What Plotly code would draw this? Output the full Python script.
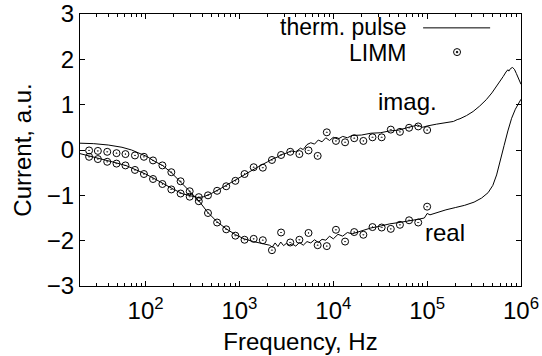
import plotly.graph_objects as go

# ---------------- data ----------------
# thermal-pulse curves (Hz, a.u.)
pulse_real_f = [20, 28, 40, 56, 71, 89, 105, 120, 151, 186, 234, 295, 372, 457, 575, 724, 912,
                1122, 1413, 1778, 2089, 2239, 2399, 2570, 2754, 2951, 3162, 3388, 3631, 3981,
                4365, 4786, 5248, 5754, 6310, 6918, 7586, 8318, 9120, 10000, 11220, 12589,
                14125, 15849, 19953, 25119, 31623, 39811, 50119, 63096, 79433, 93325, 100000,
                107152, 125893, 158489, 199526, 251189, 316228, 380189, 446684, 501187,
                549541, 602560, 660693, 724436, 794328, 870964, 933254, 1000000]
pulse_real_v = [0.15, 0.14, 0.11, 0.06, 0.0, -0.08, -0.15, -0.23, -0.34, -0.49, -0.69, -0.91,
                -1.13, -1.37, -1.58, -1.74, -1.87, -1.96, -2.02, -2.06, -2.10, -2.14, -2.05,
                -2.13, -2.03, -2.11, -2.06, -2.10, -2.07, -2.12, -2.04, -2.10, -2.02, -2.05,
                -1.98, -2.04, -1.97, -1.99, -1.90, -1.96, -1.86, -1.90, -1.82, -1.85, -1.78,
                -1.72, -1.68, -1.63, -1.60, -1.57, -1.53, -1.50, -1.40, -1.43, -1.38, -1.32,
                -1.27, -1.22, -1.15, -1.06, -0.94, -0.78, -0.55, -0.25, 0.10, 0.42, 0.70,
                0.90, 1.02, 1.12]

pulse_imag_f = [20, 25, 32, 40, 50, 63, 79, 100, 126, 158, 200, 251, 316, 363, 417, 501, 631,
                794, 1000, 1259, 1585, 1995, 2239, 2512, 2818, 3162, 3548, 3981, 4467, 4786,
                5248, 5754, 6310, 6918, 7586, 8318, 9120, 10000, 11220, 12589, 14125, 15849,
                19953, 25119, 31623, 39811, 50119, 63096, 70795, 79433, 89125, 100000, 125893,
                158489, 190546, 208930, 223872, 263027, 309030, 363078, 426580, 489779,
                549541, 602560, 645654, 691831, 724436, 741310, 776247, 812831, 851138,
                891251, 954993, 1000000]
pulse_imag_v = [-0.08, -0.13, -0.18, -0.24, -0.29, -0.35, -0.43, -0.53, -0.64, -0.76, -0.87,
                -0.97, -1.03, -1.05, -1.03, -0.96, -0.85, -0.73, -0.60, -0.48, -0.37, -0.26,
                -0.20, -0.16, -0.10, -0.07, -0.02, -0.04, 0.04, 0.01, 0.12, 0.16, 0.13, 0.22,
                0.18, 0.27, 0.21, 0.28, 0.24, 0.30, 0.27, 0.32, 0.33, 0.37, 0.38, 0.42, 0.44,
                0.50, 0.52, 0.55, 0.50, 0.53, 0.57, 0.60, 0.63, 0.67, 0.69, 0.76, 0.85, 0.97,
                1.11, 1.26, 1.40, 1.53, 1.62, 1.72, 1.77, 1.74, 1.80, 1.82, 1.78, 1.69, 1.52,
                1.45]

# LIMM measurement points
limm_f = [20, 25, 31, 39, 49, 61, 77, 96, 120, 151, 188, 236, 295, 369, 462, 578, 723, 905,
          1133, 1418, 1774, 2220, 2778, 3477, 4351, 5445, 6814, 8527, 10671, 13354, 16711,
          20912, 26170, 32750, 40983, 51287, 64182, 80318, 100000]
limm_real = [-0.01, -0.01, -0.02, -0.04, -0.07, -0.09, -0.12, -0.15, -0.23, -0.34, -0.49,
             -0.69, -0.91, -1.13, -1.39, -1.60, -1.75, -1.89, -1.98, -1.96, -1.99, -2.21,
             -1.82, -2.04, -1.98, -1.83, -2.10, -2.12, -1.76, -2.02, -1.81, -1.87, -1.70,
             -1.71, -1.74, -1.65, -1.55, -1.60, -1.25]
limm_imag = [-0.11, -0.15, -0.20, -0.26, -0.30, -0.34, -0.44, -0.53, -0.64, -0.75, -0.87,
             -0.96, -1.03, -1.04, -1.00, -0.90, -0.80, -0.68, -0.53, -0.38, -0.39, -0.22,
             -0.11, -0.04, -0.09, -0.01, -0.13, 0.39, 0.20, 0.17, 0.26, 0.20, 0.28, 0.28,
             0.45, 0.40, 0.49, 0.52, 0.44]

x_major = [100, 1000, 10000, 100000, 1000000]
x_major_text = ["10<sup>2</sup>", "10<sup>3</sup>", "10<sup>4</sup>", "10<sup>5</sup>", "10<sup>6</sup>"]
y_ticks = [-3, -2, -1, 0, 1, 2, 3]
y_tick_text = ["\u22123", "\u22122", "\u22121", "0", "1", "2", "3"]

FONT = "Liberation Sans"
FS = 24
FS_LEG = 23
x_minor = [m * 10 ** e for e in range(1, 6) for m in range(2, 10) if m * 10 ** e > 20]

fig = go.Figure()
line_style = dict(color="black", width=1)
fig.add_trace(go.Scatter(x=pulse_real_f, y=pulse_real_v, mode="lines", line=line_style,
                         showlegend=False))
fig.add_trace(go.Scatter(x=pulse_imag_f, y=pulse_imag_v, mode="lines", line=line_style,
                         showlegend=False))
mk = dict(symbol="circle-open-dot", size=7, color="black", line=dict(color="black", width=1))
fig.add_trace(go.Scatter(x=limm_f, y=limm_real, mode="markers", marker=mk, showlegend=False,
                         cliponaxis=False))
fig.add_trace(go.Scatter(x=limm_f, y=limm_imag, mode="markers", marker=mk, showlegend=False,
                         cliponaxis=False))
# invisible trace for top axis
fig.add_trace(go.Scatter(x=[100], y=[0], xaxis="x2", mode="markers",
                         marker=dict(opacity=0), showlegend=False, hoverinfo="skip"))

xr = [1.30103, 6]
common_x = dict(type="log", range=xr, showgrid=False, zeroline=False, ticks="inside",
                ticklen=5, tickwidth=1, tickcolor="black", tickmode="array",
                tickvals=x_major, automargin=False,
                minor=dict(tickmode="array", tickvals=x_minor, ticks="inside", ticklen=3,
                           tickwidth=1, tickcolor="black", showgrid=False))
fig.update_layout(
    width=542, height=356,
    margin=dict(l=80, r=21, t=14, b=70),
    paper_bgcolor="white", plot_bgcolor="white",
    font=dict(family=FONT, size=FS, color="black"),
    xaxis=dict(**common_x, ticktext=x_major_text, showline=True, linecolor="black",
               linewidth=1, tickfont=dict(size=FS), ticklabeloverflow="allow",
               ticklabelstandoff=3,
               title=dict(text="Frequency, Hz", font=dict(size=FS), standoff=10)),
    xaxis2=dict(**common_x, overlaying="x", side="top", showticklabels=False,
                showline=True, linecolor="black", linewidth=1),
    yaxis=dict(range=[-3, 3], tickmode="array", tickvals=y_ticks, ticktext=y_tick_text,
               showgrid=False, zeroline=False, ticks="inside", ticklen=5, automargin=False,
               tickcolor="black", showline=True, linecolor="black", linewidth=1,
               mirror="ticks", tickfont=dict(size=FS), ticklabeloverflow="allow",
               title=dict(text="Current, a.u.", font=dict(size=FS), standoff=8)),
)

# legend (text on the left, sample on the right)
fig.add_annotation(xref="paper", yref="paper", x=0.745, y=0.952, text="therm. pulse",
                   showarrow=False, xanchor="right", yanchor="middle", font=dict(size=FS_LEG))
fig.add_annotation(xref="paper", yref="paper", x=0.745, y=0.857, text="LIMM",
                   showarrow=False, xanchor="right", yanchor="middle", font=dict(size=FS_LEG))
fig.add_shape(type="line", xref="paper", yref="paper", x0=0.778, x1=0.93, y0=0.949, y1=0.949,
              line=dict(color="black", width=1))
fig.add_shape(type="circle", xref="paper", yref="paper", xsizemode="pixel", ysizemode="pixel",
              xanchor=0.855, yanchor=0.86, x0=-3.5, x1=3.5, y0=-3.5, y1=3.5,
              line=dict(color="black", width=1))
fig.add_shape(type="circle", xref="paper", yref="paper", xsizemode="pixel", ysizemode="pixel",
              xanchor=0.855, yanchor=0.86, x0=-0.8, x1=0.8, y0=-0.8, y1=0.8,
              line=dict(color="black", width=1), fillcolor="black")

# curve labels
fig.add_annotation(x=4.79, y=1.07, xref="x", yref="y", text="imag.", showarrow=False,
                   font=dict(size=FS))
fig.add_annotation(x=5.19, y=-1.82, xref="x", yref="y", text="real", showarrow=False,
                   font=dict(size=FS))

fig.write_html("out.html")
